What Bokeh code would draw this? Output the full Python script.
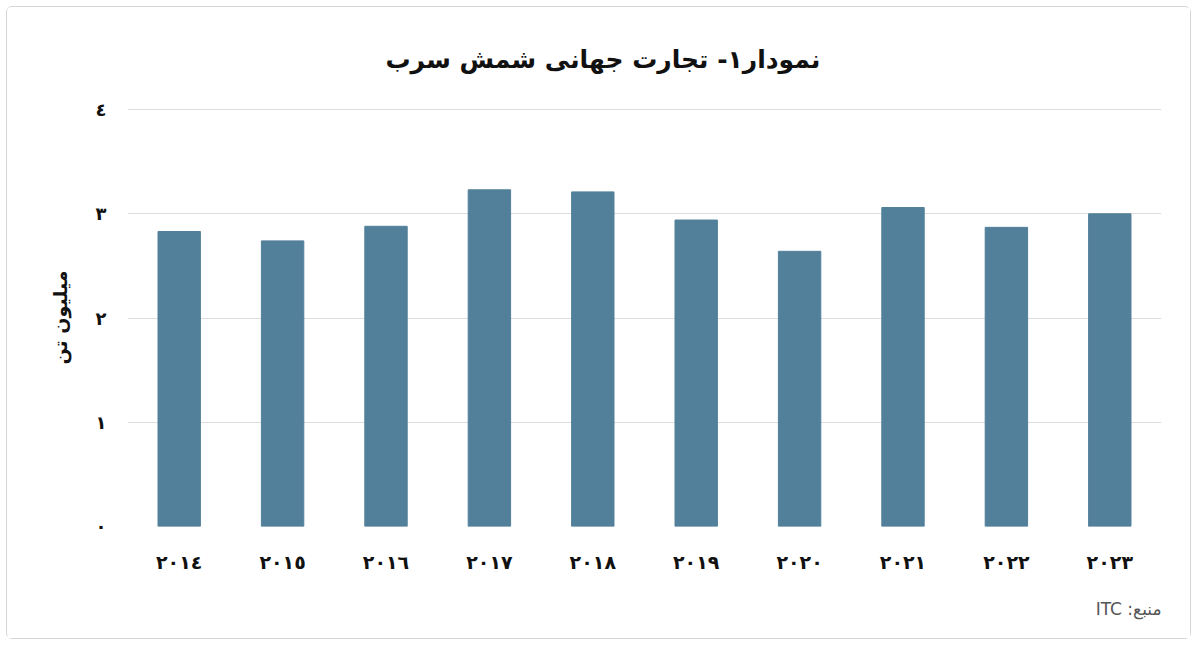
from bokeh.plotting import figure
from bokeh.models import Range1d, FixedTicker, Title
from bokeh.embed import file_html
from bokeh.resources import INLINE

years = ["٢٠١٤", "٢٠١٥", "٢٠١٦", "٢٠١٧", "٢٠١٨", "٢٠١٩", "٢٠٢٠", "٢٠٢١", "٢٠٢٢", "٢٠٢٣"]
values = [2.83, 2.74, 2.88, 3.23, 3.21, 2.94, 2.64, 3.06, 2.87, 3.00]
y_ticks = [0, 1, 2, 3, 4]
y_tick_labels = ["٠", "١", "٢", "٣", "٤"]
title_text = "نمودار۱- تجارت جهانی شمش سرب"
y_label = "میلیون تن"
source_text = "منبع: ITC"

RLE, PDF = "\u202b", "\u202c"
FONT = "DejaVu Sans"

p = figure(x_range=years, y_range=Range1d(0, 4.01), width=1185, height=633,
           output_backend="svg", toolbar_location=None,
           min_border_left=120, min_border_right=31,
           min_border_top=101, min_border_bottom=114)
p.styles = {"border": "1px solid #d6d6d6", "border-radius": "6px",
            "margin-left": "6px", "margin-top": "6px"}

p.vbar(x=years, top=values, width=0.41, color="#52809a")

p.title.visible = False
t = Title(text=RLE + title_text + PDF, align="left", text_font_size="25px",
          text_font_style="bold", text_font=FONT, text_color="#111111",
          offset=258, standoff=70)
p.add_layout(t, "above")

src = Title(text=RLE + source_text + PDF, align="right", text_font_size="17px",
            text_font_style="normal", text_font=FONT, text_color="#555555",
            standoff=43)
p.add_layout(src, "below")

p.outline_line_color = None
p.xgrid.grid_line_color = None
p.ygrid.grid_line_color = "#dddddd"
p.ygrid.grid_line_width = 1

p.yaxis.ticker = FixedTicker(ticks=y_ticks)
p.yaxis.major_label_overrides = {k: v for k, v in zip(y_ticks, y_tick_labels)}
p.yaxis.axis_line_color = None
p.yaxis.major_tick_line_color = None
p.yaxis.minor_tick_line_color = None
p.yaxis.major_tick_out = 0
p.yaxis.major_tick_in = 0
p.yaxis.major_label_text_font = FONT
p.yaxis.major_label_text_font_size = "18px"
p.yaxis.major_label_text_font_style = "bold"
p.yaxis.major_label_text_color = "#111111"
p.yaxis.major_label_standoff = 21
p.yaxis.axis_label = y_label
p.yaxis.axis_label_text_font = FONT
p.yaxis.axis_label_text_font_size = "19px"
p.yaxis.axis_label_text_font_style = "bold"
p.yaxis.axis_label_text_color = "#111111"
p.yaxis.axis_label_standoff = 22

p.xaxis.axis_line_color = None
p.xaxis.major_tick_line_color = None
p.xaxis.minor_tick_line_color = None
p.xaxis.major_tick_out = 0
p.xaxis.major_tick_in = 0
p.xaxis.major_label_text_font = FONT
p.xaxis.major_label_text_font_size = "19px"
p.xaxis.major_label_text_font_style = "bold"
p.xaxis.major_label_text_color = "#111111"
p.xaxis.major_label_standoff = 24

open("out.html", "w").write(file_html(p, INLINE))
